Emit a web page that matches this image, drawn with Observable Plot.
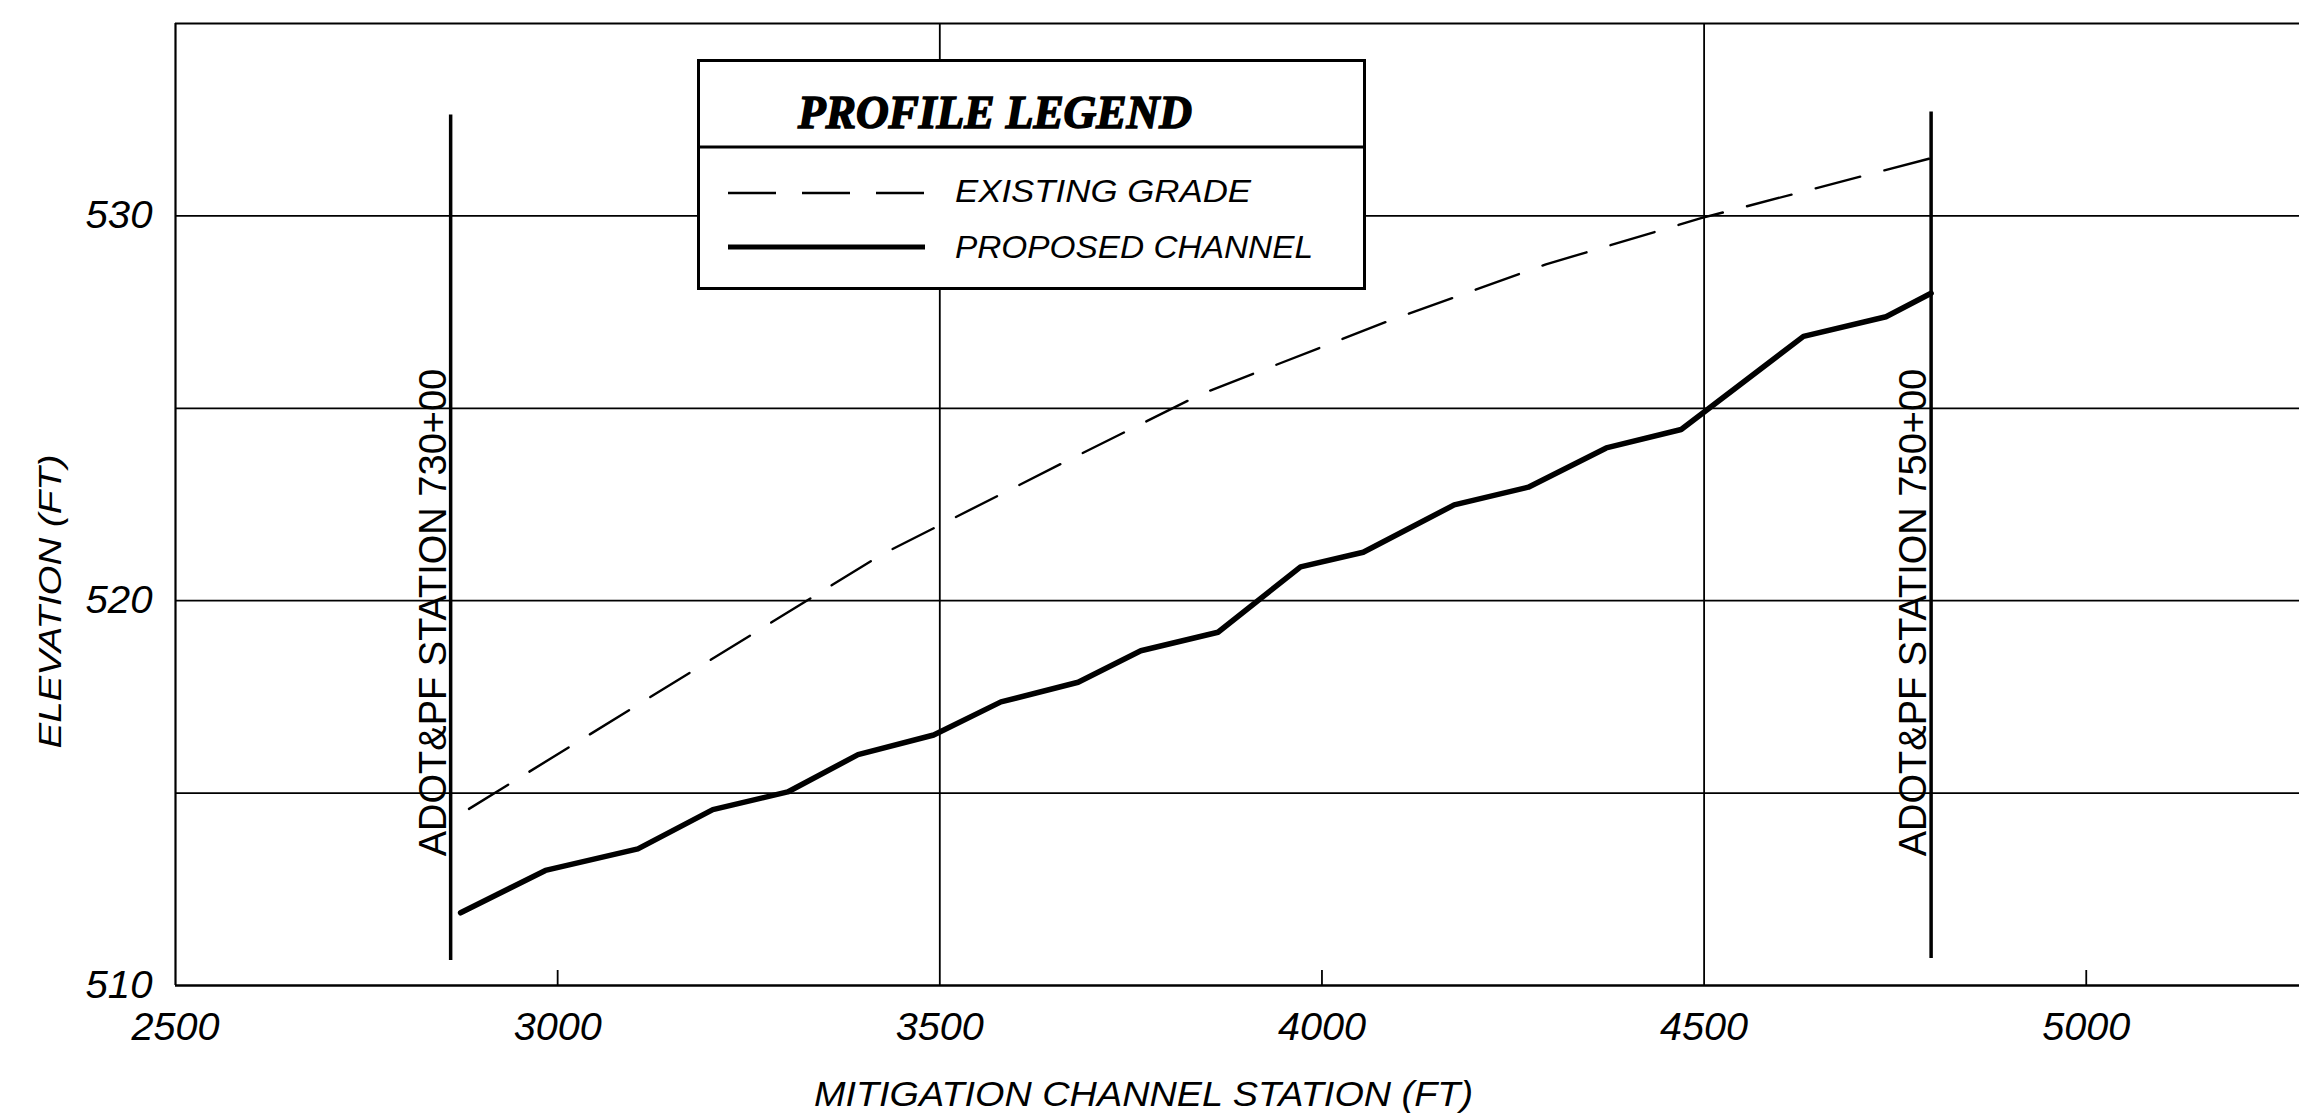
<!DOCTYPE html>
<html><head><meta charset="utf-8">
<script src="https://cdn.jsdelivr.net/npm/d3@7"></script>
<script src="https://cdn.jsdelivr.net/npm/@observablehq/plot@0.6"></script>
<style>
html,body{margin:0;padding:0;background:#fff;}
#chart{position:relative;width:2299px;height:1116px;overflow:hidden;background:#fff;}
#legend{position:absolute;left:697px;top:59px;}
</style></head><body><div id="chart"></div>
<script>
// ---- data ----
const existingStation = [2884, 3423, 3658, 3842, 4086, 4293, 4496, 4797];
const existingElev    = [514.59, 521.19, 523.55, 525.37, 527.26, 528.74, 529.94, 531.50];
const proposedStation = [2873, 2984, 3105, 3203, 3301, 3393, 3492, 3580, 3681, 3763, 3864, 3972, 4054, 4173, 4270, 4372, 4470, 4630, 4738, 4797];
const proposedElev    = [511.89, 512.99, 513.55, 514.57, 515.03, 516.00, 516.51, 517.37, 517.88, 518.70, 519.18, 520.88, 521.26, 522.49, 522.95, 523.97, 524.45, 526.87, 527.38, 527.99];
const stationLineX      = [2860, 4797];
const stationLineLabels = ["ADOT&PF STATION 730+00", "ADOT&PF STATION 750+00"];
const stationLineBottom = [510.65, 510.70];
const stationLineTop    = [532.62, 532.70];
const xTickValues = [2500, 3000, 3500, 4000, 4500, 5000];
const xGridValues = [3500, 4500];
const xMinorTicks = [3000, 4000, 5000];
const yTickValues = [510, 520, 530];
const yGridValues = [515, 520, 525, 530];
const xDomain = [2500, 5279];
const yDomain = [510, 535];
const xTitle = "MITIGATION CHANNEL STATION (FT)";
const yTitle = "ELEVATION (FT)";
const legendTitle = "PROFILE LEGEND";
const seriesNames = ["EXISTING GRADE", "PROPOSED CHANNEL"];

// ---- build tables ----
const existing = existingStation.map((x, i) => ({x, y: existingElev[i]}));
const proposed = proposedStation.map((x, i) => ({x, y: proposedElev[i]}));
const stations = stationLineX.map((x, i) => ({x, y1: stationLineBottom[i], y2: stationLineTop[i], label: stationLineLabels[i]}));

const W = 2299, H = 1116, mT = 23, mB = 131, mL = 175, mR = 0;
const frameH = H - mT - mB;
const sans = "'Liberation Sans', Arial, Helvetica, sans-serif";

const chart = Plot.plot({
  width: W, height: H,
  marginLeft: mL, marginRight: mR, marginTop: mT, marginBottom: mB,
  x: {domain: xDomain, axis: null},
  y: {domain: yDomain, axis: null},
  style: {background: "white", color: "black"},
  marks: [
    Plot.ruleY(yGridValues, {stroke: "black", strokeWidth: 1.8}),
    Plot.ruleX(xGridValues, {stroke: "black", strokeWidth: 1.8}),
    Plot.ruleX([xDomain[0]], {stroke: "black", strokeWidth: 2.2}),
    Plot.ruleY([yDomain[0]], {stroke: "black", strokeWidth: 2.5}),
    Plot.ruleY([yDomain[1]], {stroke: "black", strokeWidth: 2.2}),
    Plot.tickX(xMinorTicks, {x: d => d, insetTop: frameH - 15, stroke: "black", strokeWidth: 1.8}),
    Plot.ruleX(stations, {x: "x", y1: "y1", y2: "y2", stroke: "black", strokeWidth: 3.5}),
    Plot.line(existing, {x: "x", y: "y", stroke: "black", strokeWidth: 2.4, strokeDasharray: "46,25"}),
    Plot.line(proposed, {x: "x", y: "y", stroke: "black", strokeWidth: 5.5, strokeLinejoin: "round", strokeLinecap: "round"}),
    Plot.text(stations, {x: "x", text: "label", frameAnchor: "middle", rotate: -90, dx: -17, dy: 108,
      textAnchor: "middle", lineAnchor: "middle",
      fontSize: 38, fontFamily: sans, fill: "black"}),
    Plot.text(xTickValues, {x: d => d, text: d => String(d), frameAnchor: "bottom", dy: 42,
      textAnchor: "middle", lineAnchor: "middle",
      fontSize: 38, fontStyle: "italic", fontFamily: sans, fill: "black"}),
    Plot.text(yTickValues, {y: d => d, text: d => String(d), frameAnchor: "left", textAnchor: "end", lineAnchor: "middle", dx: -23,
      fontSize: 38, fontStyle: "italic", fontFamily: sans, fill: "black"}),
    Plot.text([yTitle], {text: d => d, frameAnchor: "left", rotate: -90, dx: -124, dy: 97,
      textAnchor: "middle", lineAnchor: "middle",
      fontSize: 31, fontStyle: "italic", fontFamily: sans, fill: "black"}),
    Plot.text([xTitle], {text: d => d, frameAnchor: "bottom", dx: -94, dy: 109,
      textAnchor: "middle", lineAnchor: "middle",
      fontSize: 35, fontStyle: "italic", fontFamily: sans, fill: "black"})
  ]
});
document.getElementById("chart").appendChild(chart);

// stretch lettering to the drawing's widths
const svgSel = d3.select(chart);
const fitText = (str, len) => svgSel.selectAll("text").filter(function() { return this.textContent === str; })
  .attr("textLength", len).attr("lengthAdjust", "spacingAndGlyphs");
fitText(yTitle, 294);
fitText(xTitle, 659);
svgSel.selectAll("text").filter(function() { return /^\d{4}$/.test(this.textContent); })
  .attr("textLength", 88).attr("lengthAdjust", "spacingAndGlyphs");
svgSel.selectAll("text").filter(function() { return /^\d{3}$/.test(this.textContent); })
  .attr("textLength", 67).attr("lengthAdjust", "spacingAndGlyphs");

// ---- legend box (drawn over the grid) ----
const lg = d3.select("#chart").append("svg").attr("id", "legend").attr("width", 670).attr("height", 232);
lg.append("rect").attr("x", 1.5).attr("y", 1.5).attr("width", 666).attr("height", 228)
  .attr("fill", "white").attr("stroke", "black").attr("stroke-width", 3);
lg.append("line").attr("x1", 1.5).attr("x2", 667.5).attr("y1", 88).attr("y2", 88)
  .attr("stroke", "black").attr("stroke-width", 3);
lg.append("text").text(legendTitle).attr("x", 298).attr("y", 69).attr("text-anchor", "middle")
  .attr("font-family", "'Liberation Serif', 'DejaVu Serif', serif").attr("font-weight", "bold").attr("font-style", "italic")
  .attr("font-size", 46).attr("stroke", "black").attr("stroke-width", 1.6)
  .attr("textLength", 394).attr("lengthAdjust", "spacingAndGlyphs");
const rows = [
  {name: seriesNames[0], dash: "48,26", sw: 2.4, ly: 134, ty: 143, len: 296},
  {name: seriesNames[1], dash: null, sw: 5, ly: 188, ty: 199, len: 358}
];
rows.forEach(r => {
  const ln = lg.append("line").attr("x1", 31).attr("x2", 228).attr("y1", r.ly).attr("y2", r.ly)
    .attr("stroke", "black").attr("stroke-width", r.sw);
  if (r.dash) ln.attr("stroke-dasharray", r.dash);
  lg.append("text").text(r.name).attr("x", 258).attr("y", r.ty)
    .attr("font-family", sans).attr("font-style", "italic").attr("font-size", 31)
    .attr("textLength", r.len).attr("lengthAdjust", "spacingAndGlyphs");
});
</script></body></html>
